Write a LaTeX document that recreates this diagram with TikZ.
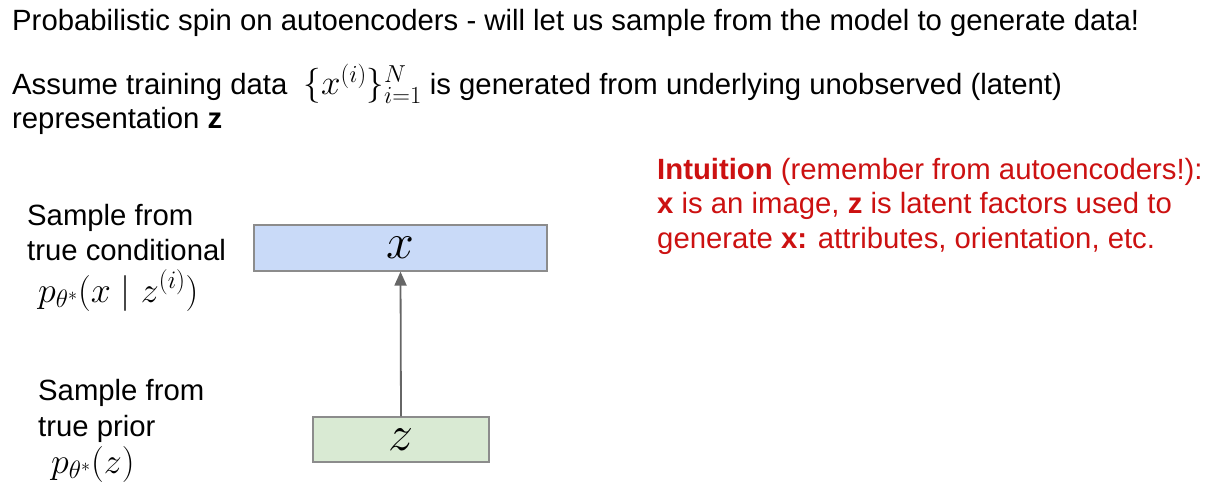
\RequirePackage{fix-cm}
\documentclass[tikz,border=0pt]{standalone}
\usepackage{fontspec}
\setmainfont{Liberation Sans}
\usetikzlibrary{arrows.meta}
\definecolor{boxblue}{HTML}{C9DAF8}
\definecolor{boxgreen}{HTML}{D9EAD3}
\definecolor{intured}{HTML}{CC1111}
\newcommand{\bodysize}{\fontsize{29.3}{35}\selectfont}
\newcommand{\bigmath}[1]{{\fontsize{35}{38}\selectfont #1}}

\begin{document}
\begin{tikzpicture}[x=1pt,y=-1pt,
    txt/.style={anchor=base west, inner sep=0pt, font=\bodysize},
    eq/.style={anchor=base west, inner sep=0pt, font=\fontsize{36}{40}\selectfont},
    var/.style={draw=black!45, line width=1.2pt, inner sep=0pt, font=\fontsize{50}{52}\selectfont},
    link/.style={draw=black!60, line width=1.8pt, -{Triangle[length=14pt,width=12pt]}}]
    \useasboundingbox (0,0) rectangle (1217,489);

    % header lines
    \node[txt] (title) at (12,31) {Probabilistic spin on autoencoders - will let us sample from the model to generate data!};
    \node[txt] (assume) at (12,95) {Assume training data\ \ \bigmath{$\{x^{(i)}\}_{i=1}^N$} is generated from underlying unobserved (latent)};
    \node[txt] (repr) at (12,129) {representation \textbf{z}};

    % boxes
    \node[var, fill=boxblue, minimum width=293pt, minimum height=46pt] (x) at (400.5,248) {$x$};
    \node[var, fill=boxgreen, minimum width=176pt, minimum height=45pt] (z) at (401,439.5) {$z$};
    \draw[link] (z.north) -- (x.south);

    % left labels
    \node[txt] (cond-1) at (27,225) {Sample from};
    \node[txt] (cond-2) at (27,260) {true conditional};
    \node[eq] (cond-3) at (38,302) {$p_{\theta^*}(x \mid z^{(i)})$};

    \node[txt] (prior-1) at (38,400) {Sample from};
    \node[txt] (prior-2) at (38,436) {true prior};
    \node[eq] (prior-3) at (51,473) {$p_{\theta^*}(z)$};

    % intuition
    \node[txt, text=intured] (intu-1) at (657,180) {\textbf{Intuition} (remember from autoencoders!):};
    \node[txt, text=intured] (intu-2) at (657,213) {\textbf{x} is an image, \textbf{z} is latent factors used to};
    \node[txt, text=intured] (intu-3) at (657,248) {generate \textbf{x:} attributes, orientation, etc.};
\end{tikzpicture}
\end{document}
